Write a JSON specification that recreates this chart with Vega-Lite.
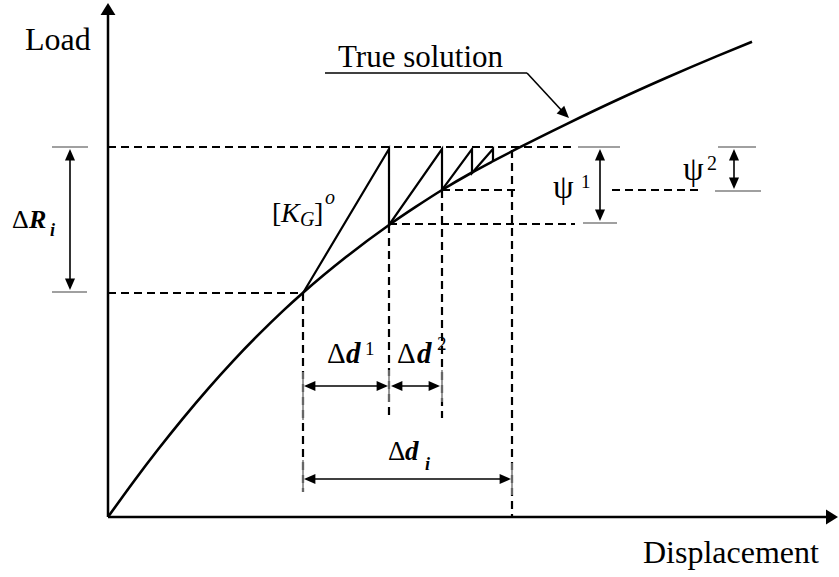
{
  "$schema": "https://vega.github.io/schema/vega-lite/v6.json",
  "width": 839,
  "height": 577,
  "autosize": {"type": "fit", "contains": "padding"},
  "padding": 0,
  "background": "white",
  "config": {"view": {"stroke": null}, "text": {"font": "Liberation Serif", "color": "black"}},
  "datasets": {
    "curve": [
      {"x": 0, "y": 0}, {"x": 25, "y": 34.6}, {"x": 50, "y": 67.5}, {"x": 75, "y": 98.7},
      {"x": 100, "y": 128.2}, {"x": 125, "y": 155.9}, {"x": 150, "y": 181.8}, {"x": 175, "y": 206.1},
      {"x": 195, "y": 224.2}, {"x": 238, "y": 259.9}, {"x": 281, "y": 292}, {"x": 308, "y": 310.3},
      {"x": 334, "y": 327}, {"x": 364, "y": 344.5}, {"x": 385, "y": 355.8}, {"x": 409, "y": 368.3},
      {"x": 459, "y": 393.2}, {"x": 509, "y": 417}, {"x": 559, "y": 439.5}, {"x": 609, "y": 460.9},
      {"x": 644, "y": 475.2}
    ],
    "iterations": [
      {"step": 0, "x": 195, "y": 224}, {"step": 1, "x": 281, "y": 368},
      {"step": 2, "x": 281, "y": 292}, {"step": 3, "x": 334, "y": 368},
      {"step": 4, "x": 334, "y": 327}, {"step": 5, "x": 364, "y": 368},
      {"step": 6, "x": 364, "y": 344}, {"step": 7, "x": 385, "y": 368},
      {"step": 8, "x": 385, "y": 356}
    ],
    "axes": [
      {"x": 0, "y": 0, "x2": 0, "y2": 505},
      {"x": 0, "y": 0, "x2": 722, "y2": 0}
    ],
    "guides": [
      {"x": 0, "y": 370, "x2": 464, "y2": 370},
      {"x": 0, "y": 224, "x2": 195, "y2": 224},
      {"x": 281, "y": 293, "x2": 467, "y2": 293},
      {"x": 334, "y": 327, "x2": 409, "y2": 327},
      {"x": 504, "y": 327, "x2": 592, "y2": 327},
      {"x": 195, "y": 224, "x2": 195, "y2": 25},
      {"x": 281, "y": 292, "x2": 281, "y2": 99},
      {"x": 334, "y": 327, "x2": 334, "y2": 99},
      {"x": 404, "y": 367, "x2": 404, "y2": 0}
    ],
    "shafts": [
      {"x": -38, "y": 229, "x2": -38, "y2": 366},
      {"x": 492, "y": 298, "x2": 492, "y2": 366},
      {"x": 626, "y": 330, "x2": 626, "y2": 366},
      {"x": 198, "y": 131, "x2": 278, "y2": 131},
      {"x": 286, "y": 131, "x2": 330, "y2": 131},
      {"x": 198, "y": 38, "x2": 401, "y2": 38},
      {"x": 217, "y": 444, "x2": 419, "y2": 444},
      {"x": 419, "y": 444, "x2": 456, "y2": 404}
    ],
    "brackets": [
      {"x": -56, "y": 370, "x2": -20, "y2": 370},
      {"x": -56, "y": 225, "x2": -21, "y2": 225},
      {"x": 470, "y": 370, "x2": 512, "y2": 370},
      {"x": 475, "y": 294, "x2": 509, "y2": 294},
      {"x": 610, "y": 370, "x2": 648, "y2": 370},
      {"x": 607, "y": 326, "x2": 653, "y2": 326},
      {"x": 195, "y": 145, "x2": 195, "y2": 97},
      {"x": 195, "y": 57, "x2": 195, "y2": 25},
      {"x": 281, "y": 147, "x2": 281, "y2": 115},
      {"x": 334, "y": 147, "x2": 334, "y2": 115},
      {"x": 404, "y": 54, "x2": 404, "y2": 22}
    ],
    "heads": [
      {"x": 0, "y": 514, "dir": "axisUp"},
      {"x": 730, "y": 0, "dir": "axisRight"},
      {"x": -38, "y": 368, "dir": "up"},
      {"x": -38, "y": 227, "dir": "down"},
      {"x": 492, "y": 368, "dir": "up"},
      {"x": 492, "y": 296, "dir": "down"},
      {"x": 626, "y": 368, "dir": "up"},
      {"x": 626, "y": 328, "dir": "down"},
      {"x": 196, "y": 131, "dir": "left"},
      {"x": 280, "y": 131, "dir": "right"},
      {"x": 283, "y": 131, "dir": "left"},
      {"x": 332, "y": 131, "dir": "right"},
      {"x": 196, "y": 38, "dir": "left"},
      {"x": 403, "y": 38, "dir": "right"},
      {"x": 461, "y": 399, "dir": "leader"}
    ],
    "regularText": [
      {"x": -83, "y": 467, "text": "Load", "role": "label"},
      {"x": 535, "y": -46, "text": "Displacement", "role": "label"},
      {"x": 230, "y": 450, "text": "True solution", "role": "title"},
      {"x": 219, "y": 154, "text": "Δ", "role": "delta"},
      {"x": 257, "y": 162, "text": "1", "role": "sup"},
      {"x": 289, "y": 154, "text": "Δ", "role": "delta"},
      {"x": 329, "y": 167, "text": "2", "role": "sup"},
      {"x": 280, "y": 57, "text": "Δ", "role": "deltaI"},
      {"x": -96, "y": 289, "text": "Δ", "role": "deltaR"},
      {"x": 164, "y": 295, "text": "[", "role": "sym"},
      {"x": 206, "y": 295, "text": "]", "role": "sym"},
      {"x": 445, "y": 319, "text": "ψ", "role": "psi"},
      {"x": 473, "y": 329, "text": "1", "role": "sup"},
      {"x": 575, "y": 337, "text": "ψ", "role": "psi"},
      {"x": 599, "y": 347, "text": "2", "role": "small"}
    ],
    "italicText": [
      {"x": 173, "y": 295, "text": "K", "role": "sym"},
      {"x": 192, "y": 291, "text": "G", "role": "small"},
      {"x": 217, "y": 313, "text": "o", "role": "small"}
    ],
    "boldItalicText": [
      {"x": 238, "y": 154, "text": "d", "role": "delta"},
      {"x": 309, "y": 154, "text": "d", "role": "delta"},
      {"x": 297, "y": 57, "text": "d", "role": "deltaI"},
      {"x": 317, "y": 47, "text": "i", "role": "sub"},
      {"x": -79, "y": 289, "text": "R", "role": "deltaR"},
      {"x": -58, "y": 281, "text": "i", "role": "sub"}
    ]
  },
  "encoding": {
    "x": {"field": "x", "type": "quantitative", "scale": {"domain": [-108, 731], "nice": false, "zero": false}, "axis": null},
    "y": {"field": "y", "type": "quantitative", "scale": {"domain": [-60, 517], "nice": false, "zero": false}, "axis": null}
  },
  "layer": [
    {
      "data": {"name": "guides"},
      "mark": {"type": "rule", "color": "black", "strokeWidth": 2.2, "strokeDash": [8, 5]},
      "encoding": {"x2": {"field": "x2"}, "y2": {"field": "y2"}}
    },
    {
      "data": {"name": "brackets"},
      "mark": {"type": "rule", "color": "#808080", "strokeWidth": 1.6},
      "encoding": {"x2": {"field": "x2"}, "y2": {"field": "y2"}}
    },
    {
      "data": {"name": "axes"},
      "mark": {"type": "rule", "color": "black", "strokeWidth": 2.5},
      "encoding": {"x2": {"field": "x2"}, "y2": {"field": "y2"}}
    },
    {
      "data": {"name": "shafts"},
      "mark": {"type": "rule", "color": "black", "strokeWidth": 1.6},
      "encoding": {"x2": {"field": "x2"}, "y2": {"field": "y2"}}
    },
    {
      "data": {"name": "curve"},
      "mark": {"type": "line", "color": "black", "strokeWidth": 2.6, "interpolate": "monotone"},
      "encoding": {}
    },
    {
      "data": {"name": "iterations"},
      "mark": {"type": "line", "color": "black", "strokeWidth": 2.2},
      "encoding": {"order": {"field": "step", "type": "quantitative"}}
    },
    {
      "data": {"name": "heads"},
      "mark": {"type": "point", "filled": true, "color": "black", "opacity": 1, "size": 576, "strokeWidth": 0},
      "encoding": {
        "shape": {
          "field": "dir",
          "type": "nominal",
          "legend": null,
          "scale": {
            "domain": ["axisUp", "axisRight", "up", "down", "left", "right", "leader"],
            "range": [
              "M0,0L0.62,1L-0.62,1Z",
              "M0,0L-1,0.62L-1,-0.62Z",
              "M0,0L0.42,0.95L-0.42,0.95Z",
              "M0,0L0.42,-0.95L-0.42,-0.95Z",
              "M0,0L0.95,0.42L0.95,-0.42Z",
              "M0,0L-0.95,0.42L-0.95,-0.42Z",
              "M0,0L-0.4,-1.02L-1.03,-0.38Z"
            ]
          }
        }
      }
    },
    {
      "data": {"name": "regularText"},
      "mark": {"type": "text", "align": "left", "baseline": "alphabetic", "font": "Liberation Serif"},
      "encoding": {
        "text": {"field": "text"},
        "size": {"field": "role", "type": "nominal", "legend": null,
          "scale": {"type": "ordinal", "domain": ["label", "title", "delta", "deltaI", "deltaR", "sym", "psi", "small", "sup", "sub"], "range": [32, 31, 29, 27, 26, 28, 33, 20, 19, 18]}}
      }
    },
    {
      "data": {"name": "italicText"},
      "mark": {"type": "text", "align": "left", "baseline": "alphabetic", "font": "Liberation Serif", "fontStyle": "italic"},
      "encoding": {
        "text": {"field": "text"},
        "size": {"field": "role", "type": "nominal", "legend": null,
          "scale": {"type": "ordinal", "domain": ["label", "title", "delta", "deltaI", "deltaR", "sym", "psi", "small", "sup", "sub"], "range": [32, 31, 29, 27, 26, 28, 33, 20, 19, 18]}}
      }
    },
    {
      "data": {"name": "boldItalicText"},
      "mark": {"type": "text", "align": "left", "baseline": "alphabetic", "font": "Liberation Serif", "fontStyle": "italic", "fontWeight": "bold"},
      "encoding": {
        "text": {"field": "text"},
        "size": {"field": "role", "type": "nominal", "legend": null,
          "scale": {"type": "ordinal", "domain": ["label", "title", "delta", "deltaI", "deltaR", "sym", "psi", "small", "sup", "sub"], "range": [32, 31, 29, 27, 26, 28, 33, 20, 19, 18]}}
      }
    }
  ]
}
